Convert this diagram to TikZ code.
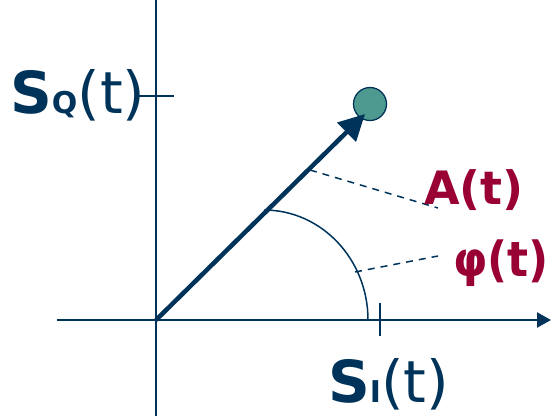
\documentclass[tikz,border=0pt]{standalone}
\usepackage{fontspec}
\setmainfont{DejaVu Sans}
\usetikzlibrary{arrows.meta}
\definecolor{navy}{HTML}{003359}
\definecolor{teal2}{HTML}{4F9A90}
\definecolor{crim}{HTML}{990033}
\begin{document}
\begin{tikzpicture}[x=1pt,y=-1pt,
  axis/.style={navy,line width=2.2pt},
  lbl/.style={inner sep=0pt,anchor=base west,text=navy},
  redlbl/.style={inner sep=0pt,anchor=base west,text=crim,font=\bfseries\fontsize{46}{46}\selectfont},
  dash2/.style={navy,line width=1.5pt,dash pattern=on 7pt off 6pt}]
\useasboundingbox (0,0) rectangle (551,416);
\coordinate (O) at (156,320);
\coordinate (ytop) at (156,0);
\coordinate (ybot) at (156,416);
\coordinate (xl) at (57,320);
\coordinate (xr) at (551,320);
\draw[axis] (ytop) -- (ybot);
\draw[axis,-{Triangle[length=14pt,width=15pt]}] (xl) -- (xr);
% ticks
\coordinate (tq1) at (138,96);
\coordinate (tq2) at (174,96);
\coordinate (ti1) at (380,303);
\coordinate (ti2) at (380,336);
\draw[axis,line width=1.6pt] (tq1) -- (tq2);
\draw[axis,line width=1.6pt] (ti1) -- (ti2);
% point
\node[circle,draw=navy,line width=1.3pt,fill=teal2,minimum size=33pt,inner sep=0pt] (P) at (370,104) {};
\coordinate (tip) at (365,114);
\draw[navy,line width=4.5pt,-{Triangle[length=26pt,width=26pt]}] (O) -- (tip);
% arc
\coordinate (arcS) at (264,210);
\draw[navy,line width=1.5pt] (arcS) arc[start angle=90,end angle=0,x radius=104,y radius=-110];
% dashed
\coordinate (da1) at (310,170);
\coordinate (da2) at (438,208);
\coordinate (dp1) at (355,272);
\coordinate (dp2) at (438,256);
\draw[dash2] (da1) -- (da2);
\draw[dash2] (dp1) -- (dp2);
% labels
\node[redlbl] (A) at (424,204) {A(t)};
\node[redlbl,font=\bfseries\fontsize{44}{44}\selectfont] (phi) at (453,276) {\scalebox{1}[1.1]{φ(t)}};
\node[lbl] (SQ) at (10,113) {{\bfseries\fontsize{58}{58}\selectfont S}{\bfseries\fontsize{30}{30}\selectfont Q}{\fontsize{58}{58}\selectfont(t)}};
\node[lbl] (SI) at (328,402) {{\bfseries\fontsize{58}{58}\selectfont S}{\bfseries\fontsize{30}{30}\selectfont I}{\fontsize{58}{58}\selectfont(t)}};
\end{tikzpicture}
\end{document}
